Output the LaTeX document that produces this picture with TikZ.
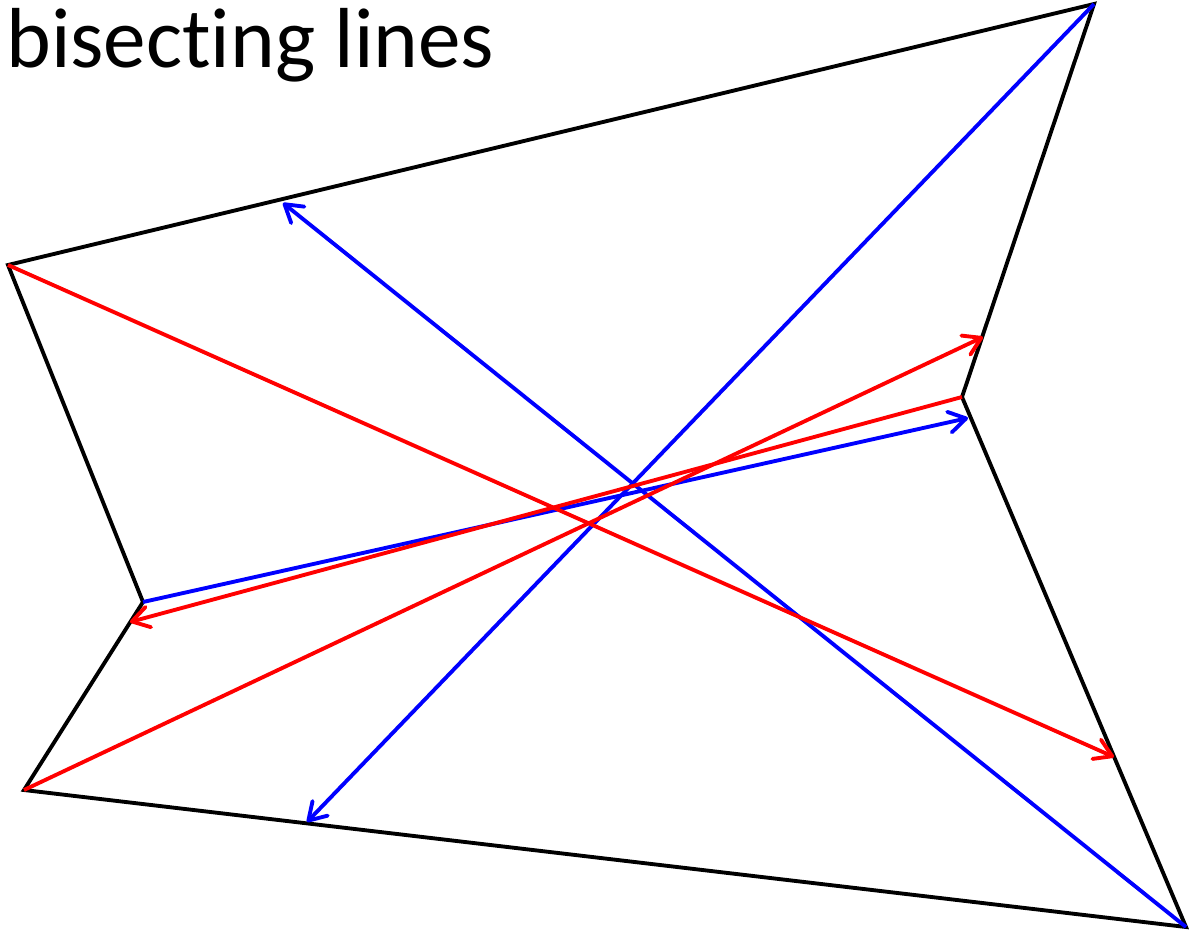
\documentclass[tikz,border=0pt]{standalone}
\usepackage{fontspec}
\setmainfont[Ligatures=NoCommon]{Carlito}
\usepackage{xcolor}
\usepackage{tikz}
\usetikzlibrary{arrows.meta}
\definecolor{edgeblack}{HTML}{000000}
\definecolor{bisblue}{HTML}{0000FF}
\definecolor{bisred}{HTML}{FF0000}
\tikzset{
  outline/.style={line width=2.2pt,draw=edgeblack,line join=miter},
  bisector/.style={line width=2.2pt,-{Straight Barb[length=3.4mm,width=4.2mm,round]}},
  bluebis/.style={bisector,draw=bisblue},
  redbis/.style={bisector,draw=bisred},
  heading/.style={font=\fontsize{48.5}{56}\selectfont,inner sep=0pt,anchor=base west}
}
\begin{document}
\begin{tikzpicture}[x=0.02cm,y=-0.02cm]
  \useasboundingbox (0,0) rectangle (1189,936);
  % corners of the polygon
  \coordinate (topleft) at (8,265);
  \coordinate (topright) at (1094,4);
  \coordinate (rightdent) at (962,397);
  \coordinate (botright) at (1186,927);
  \coordinate (botleft) at (24,790);
  \coordinate (leftdent) at (143,602);
  % where the bisectors meet the boundary
  \coordinate (hittop) at (283,203);
  \coordinate (hitbottom) at (307,822);
  \coordinate (hitrightdent) at (968,418);
  \coordinate (hitrightupper) at (983,337);
  \coordinate (hitrightlower) at (1114,757);
  \coordinate (hitleftdent) at (130,622);
  \node[heading] (title) at (6,68) {bisecting lines};
  \draw[outline] (topleft) -- (topright) -- (rightdent) -- (botright) -- (botleft) -- (leftdent) -- cycle;
  \draw[bluebis] (topright) -- (hitbottom);
  \draw[bluebis] (botright) -- (hittop);
  \draw[bluebis] (leftdent) -- (hitrightdent);
  \draw[redbis] (topleft) -- (hitrightlower);
  \draw[redbis] (botleft) -- (hitrightupper);
  \draw[redbis] (rightdent) -- (hitleftdent);
\end{tikzpicture}
\end{document}
